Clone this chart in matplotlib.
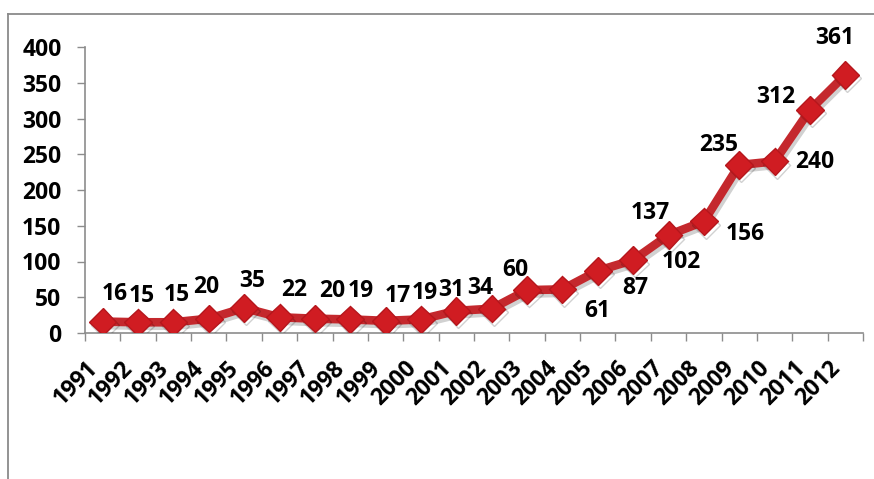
import matplotlib
matplotlib.use("Agg")
import matplotlib.pyplot as plt
import matplotlib.patheffects as pe
from matplotlib.lines import Line2D

years = ["1991", "1992", "1993", "1994", "1995", "1996", "1997", "1998", "1999", "2000", "2001",
         "2002", "2003", "2004", "2005", "2006", "2007", "2008", "2009", "2010", "2011", "2012"]
values = [16, 15, 15, 20, 35, 22, 20, 19, 17, 19, 31, 34, 60, 61, 87, 102, 137, 156, 235, 240, 312, 361]
yticks = [0, 50, 100, 150, 200, 250, 300, 350, 400]

# label offsets (pixels, image direction: +x right, +y down) relative to each point
label_dx = [12, 4, 3, -3, 8, 15, 17, 11, 12, 4, -5, -11, -12, 35, 38, 48, -18, 41, -21, 40, -34, -11]
label_dy = [-28, -26, -27, -32, -27, -27, -28, -28, -25, -26, -21, -21, -20, 22, 17, 2, -22, 13, -20, 1, -13, -37]

FONT = ["Open Sans", "DejaVu Sans"]
FS = 16.5
AX_COL = "#8c8c8c"

fig = plt.figure(figsize=(8.74, 4.79), dpi=100)
ax = fig.add_axes([85 / 874, 1 - 333 / 479, (863 - 85) / 874, (333 - 47) / 479])

x = list(range(len(values)))
ax.plot(x, values, color="#c4282d", lw=6.2, marker="D", markersize=14,
        markerfacecolor="#d01c22", markeredgecolor="#b5161c", markeredgewidth=1,
        solid_joinstyle="round", zorder=3,
        path_effects=[pe.SimpleLineShadow(offset=(1.5, -2.5), shadow_color="black", alpha=0.18),
                      pe.Normal()])

for i, v in enumerate(values):
    ax.annotate(str(v), (i, v), xytext=(label_dx[i], -label_dy[i]), textcoords="offset pixels",
                ha="center", va="center", fontsize=FS, fontweight="bold", family=FONT,
                color="black", zorder=4, annotation_clip=False)

ax.set_xlim(-0.5, len(values) - 0.5)
ax.set_ylim(0, 400)
ax.set_yticks(yticks)
ax.set_yticklabels([str(t) for t in yticks], fontsize=FS, fontweight="bold", family=FONT)
ax.tick_params(axis="y", length=6, width=1, color=AX_COL, pad=11)

ax.set_xticks(x)
ax.set_xticklabels(years, rotation=45, ha="right", va="top", fontsize=FS,
                   fontweight="bold", family=FONT)
ax.tick_params(axis="x", which="major", length=0, pad=17)
ax.set_xticks([i - 0.5 for i in range(len(values) + 1)], minor=True)
ax.tick_params(axis="x", which="minor", length=6, width=1, color=AX_COL, direction="out")

for s in ["top", "right"]:
    ax.spines[s].set_visible(False)
for s in ["left", "bottom"]:
    ax.spines[s].set_color(AX_COL)
    ax.spines[s].set_linewidth(1.2)

# outer chart frame (partially visible)
fig.add_artist(Line2D([8 / 874, 8 / 874], [0, 1 - 14 / 479], transform=fig.transFigure,
                      color="#8a8a8a", lw=1.3))
fig.add_artist(Line2D([8 / 874, 1], [1 - 14 / 479, 1 - 14 / 479], transform=fig.transFigure,
                      color="#8a8a8a", lw=1.3))

fig.savefig("out.png", dpi=100)
